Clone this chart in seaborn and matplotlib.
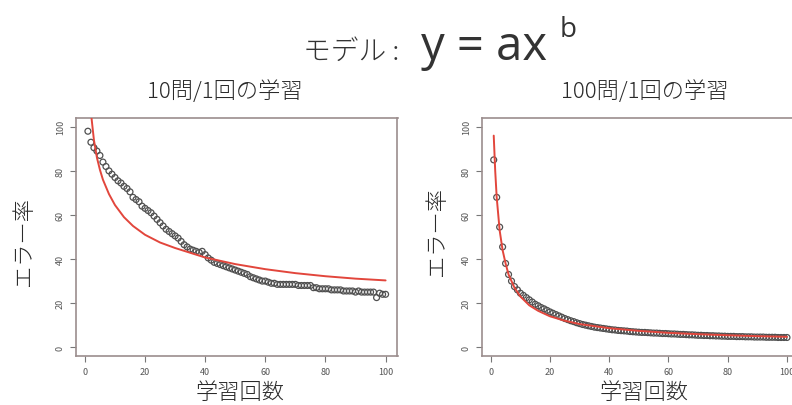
import numpy as np
import pandas as pd
import seaborn as sns

import matplotlib

matplotlib.use("Agg")
import matplotlib.pyplot as plt

# values
steps = list(range(1, 101))

err_10 = [
    98, 93, 90.5, 89, 87, 84, 82, 80, 78.5, 77,
    75.5, 74.5, 73, 72, 70.5, 68, 67, 66, 64, 63,
    62, 61, 59.5, 58, 56.5, 55, 53.5, 52.5, 51.5, 50.5,
    49.5, 48, 46.5, 45.5, 44.5, 44, 43.5, 43, 43.5, 42,
    40.5, 39.5, 38.5, 38, 37.5, 37, 36.5, 36, 35.5, 35,
    34.5, 34, 33.5, 33, 32, 31.5, 31, 30.5, 30, 30,
    29.5, 29, 29, 28.5, 28.5, 28.5, 28.5, 28.5, 28.5, 28.5,
    28, 28, 28, 28, 28, 27, 27, 26.5, 26.5, 26.5,
    26.5, 26, 26, 26, 26, 25.5, 25.5, 25.5, 25.5, 25,
    25.5, 25, 25, 25, 25, 25, 22.5, 24.5, 24, 24,
]
fit_x_10 = [2.2, 3, 4, 5, 6, 8, 10, 13, 16, 20, 25, 30, 40, 50, 60, 70, 80, 90, 100]
fit_y_10 = [104, 94, 86, 80.5, 76, 69.5, 64.5, 59, 55, 51, 47.5, 45, 40.7, 37.7, 35.4, 33.6, 32.2, 31.1, 30.3]

err_100 = [
    85, 68, 54.5, 45.5, 38, 33, 30, 27.5, 26, 24.5,
    23.5, 22.5, 21.5, 20.5, 19.5, 18.8, 18, 17.4, 16.7, 16,
    15.4, 14.8, 14.2, 13.6, 13, 12.5, 12, 11.6, 11.1, 10.7,
    10.3, 10, 9.7, 9.4, 9.1, 8.9, 8.7, 8.5, 8.3, 8.1,
    7.9, 7.8, 7.6, 7.5, 7.4, 7.3, 7.1, 7.0, 6.9, 6.8,
    6.7, 6.7, 6.6, 6.5, 6.4, 6.4, 6.3, 6.2, 6.2, 6.1,
    6.0, 6.0, 5.9, 5.8, 5.8, 5.7, 5.6, 5.6, 5.5, 5.4,
    5.4, 5.3, 5.3, 5.2, 5.2, 5.1, 5.1, 5.0, 5.0, 4.9,
    4.9, 4.9, 4.8, 4.8, 4.8, 4.7, 4.7, 4.7, 4.6, 4.6,
    4.6, 4.6, 4.5, 4.5, 4.5, 4.5, 4.4, 4.4, 4.4, 4.4,
]
fit_x_100 = [1, 1.5, 2, 3, 4, 5, 6, 8, 10, 13, 16, 20, 25, 30, 40, 50, 60, 70, 80, 90, 100]
fit_y_100 = [96, 80, 68, 53, 44, 38, 33, 27, 23, 19, 16.5, 14, 12, 10.5, 8.6, 7.4, 6.5, 5.9, 5.4, 5.0, 4.7]

panel_titles = ["10問/1回の学習", "100問/1回の学習"]
tick_vals = [0, 20, 40, 60, 80, 100]

sns.set_style("white")
plt.rcParams["font.family"] = ["Noto Sans CJK JP", "DejaVu Sans"]

W, H = 792, 406
fig = plt.figure(figsize=(W / 100, H / 100), dpi=100)


def fx(px):
    return px / W


def fy(py):
    return 1 - py / H


frame_col = "#9b8d8d"
red = "#e2463c"
txt = "#2a2a2a"

panels = [
    (err_10, fit_x_10, fit_y_10, 76, 397.5),
    (err_100, fit_x_100, fit_y_100, 482, 798.7),
]

for i, (err, fxs, fys, left, right) in enumerate(panels):
    ax = fig.add_axes([fx(left), fy(357), fx(right - left), (357 - 119) / H])
    pts = pd.DataFrame({"step": steps, "err": err})
    fit = pd.DataFrame({"step": fxs, "err": fys})
    sns.scatterplot(
        data=pts, x="step", y="err", ax=ax, marker="o", s=18,
        facecolor="none", edgecolor="#505050", linewidth=0.9, zorder=2,
    )
    sns.lineplot(data=fit, x="step", y="err", ax=ax, color=red, linewidth=1.4, zorder=3)
    ax.set_xlim(-2.96, 103.96)
    ax.set_ylim(-4, 104)
    ax.set_xticks(tick_vals)
    ax.set_yticks(tick_vals)
    ax.set_xticklabels([str(v) for v in tick_vals])
    ax.set_yticklabels([str(v) for v in tick_vals], rotation=90, va="center")
    ax.tick_params(axis="both", length=4, width=0.8, color="#777777", labelsize=6.5,
                   labelcolor="#555555", direction="out", left=True, bottom=True)
    ax.tick_params(axis="x", pad=4)
    ax.tick_params(axis="y", pad=4)
    for sp in ax.spines.values():
        sp.set_color(frame_col)
        sp.set_linewidth(1.2)
    ax.set_xlabel("")
    ax.set_ylabel("")

# panel titles and axis labels
fig.text(fx(225), fy(92), panel_titles[0], ha="center", va="center", fontsize=16,
         color=txt, fontweight="light")
fig.text(fx(645), fy(92), panel_titles[1], ha="center", va="center", fontsize=16,
         color=txt, fontweight="light")
for cx in (240, 644):
    fig.text(fx(cx), fy(393), "学習回数", ha="center", va="center", fontsize=16,
             color=txt, fontweight="light")
fig.text(fx(24), fy(242), "エラー率", ha="center", va="center", rotation=90, fontsize=16,
         color=txt, fontweight="light")
fig.text(fx(437), fy(232), "エラー率", ha="center", va="center", rotation=90, fontsize=16,
         color=txt, fontweight="light")

# main title: モデル :y = ax^b
fig.text(fx(303), fy(60), "モデル :", ha="left", va="baseline", fontsize=20,
         color="#333333", fontweight="light")
fig.text(fx(421), fy(60), "y = ax", ha="left", va="baseline", fontsize=34,
         color="#333333", family=["Open Sans", "DejaVu Sans"])
fig.text(fx(560), fy(37), "b", ha="left", va="baseline", fontsize=20,
         color="#333333", family=["Open Sans", "DejaVu Sans"])

fig.savefig("out.png", dpi=100, facecolor="white")
